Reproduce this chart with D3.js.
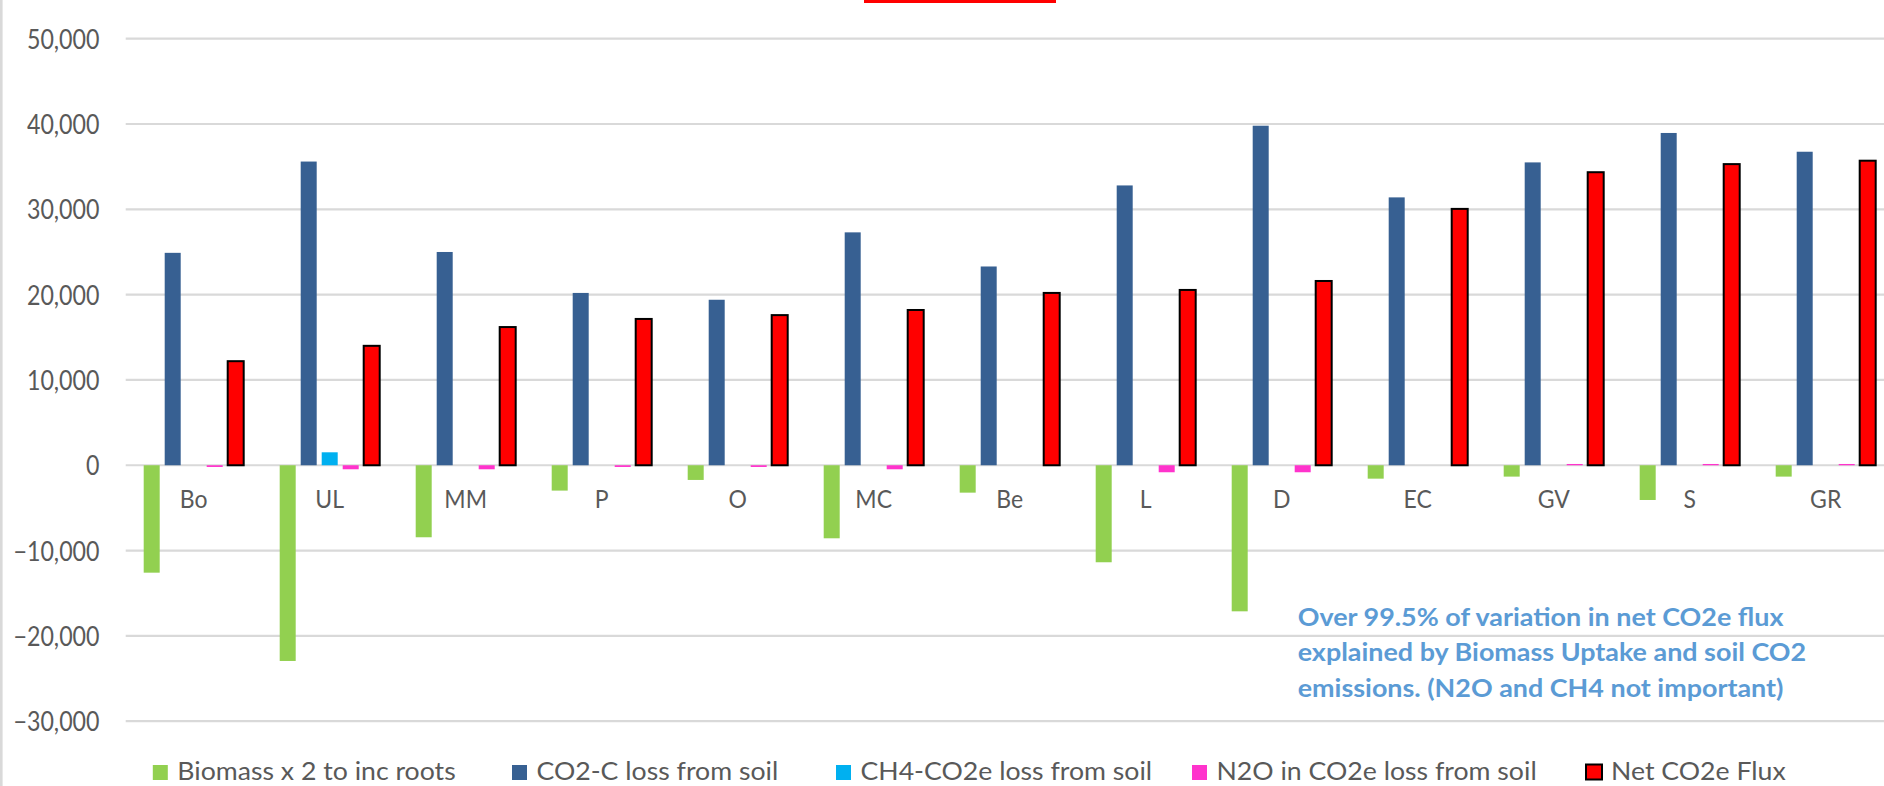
<!DOCTYPE html>
<html>
<head>
<meta charset="utf-8">
<script src="https://cdn.jsdelivr.net/npm/d3@7"></script>
<style>
  html, body { margin: 0; padding: 0; background: #ffffff; }
  svg { display: block; }
</style>
</head>
<body>
<svg id="chart" width="1884" height="786"></svg>
<script>
// ---------------- DATA ----------------
const categories = ["Bo", "UL", "MM", "P", "O", "MC", "Be", "L", "D", "EC", "GV", "S", "GR"];
const seriesNames = ["Biomass x 2 to inc roots", "CO2-C loss from soil", "CH4-CO2e loss from soil", "N2O in CO2e loss from soil", "Net CO2e Flux"];
const biomass = [-12590, -22940, -8440, -2970, -1720, -8560, -3210, -11370, -17120, -1570, -1330, -4070, -1330];
const co2cLoss = [24900, 35600, 25000, 20200, 19400, 27300, 23300, 32800, 39800, 31400, 35500, 38950, 36750];
const ch4Loss = [0, 1520, 0, 0, 0, 0, 0, 0, 0, 0, 0, 0, 0];
const n2oLoss = [-200, -470, -470, -200, -200, -470, 0, -820, -820, 0, 150, 150, 150];
const netFlux = [12200, 14000, 16200, 17150, 17600, 18200, 20200, 20550, 21600, 30050, 34350, 35300, 35700];
const yTicks = [-30000, -20000, -10000, 0, 10000, 20000, 30000, 40000, 50000];
const noteLines = [
  "Over 99.5% of variation in net CO2e flux",
  "explained by Biomass Uptake and soil CO2",
  "emissions. (N2O and CH4 not important)"
];

// ---------------- STYLE ----------------
const seriesColors = ["#92D050", "#376092", "#00B0F0", "#FF33CC", "#FF0000"];
const seriesValues = [biomass, co2cLoss, ch4Loss, n2oLoss, netFlux];
const textColor = "#595959";
const gridColor = "#d9d9d9";
const FONT = 'Lato, "Open Sans", sans-serif';
const CAP = 0.7165; // Lato cap-height ratio

const W = 1884, H = 786;
const svg = d3.select("#chart");

// fit font size so a sample string reaches a target width
function fitSize(sample, target, weight) {
  const t = svg.append("text").attr("font-family", FONT).attr("font-size", 40)
    .attr("font-weight", weight || "normal").text(sample);
  const len = t.node().getComputedTextLength();
  t.remove();
  return 40 * target / len;
}
// vertical stretch so cap height matches the reference's tall, narrow lettering
function stretch(fs, capTarget) { return capTarget / (CAP * fs); }

const axisFs = fitSize("50,000", 72.6);
const axisK = stretch(axisFs, 19);
const catFs = fitSize("MC", 36.7);
const catK = stretch(catFs, 18.3);
const legendFs = fitSize(seriesNames[0], 278.5);
const legendK = stretch(legendFs, 18.5);
const noteFs = fitSize(noteLines[0], 486, "bold");
const noteK = stretch(noteFs, 18.3);

// ---------------- SCALES ----------------
const plotLeft = 125.7;
const step = 136;
const x0 = d3.scaleBand().domain(categories)
  .range([plotLeft, plotLeft + step * categories.length])
  .paddingInner(36 / 136).paddingOuter(18 / 136);
const x1 = d3.scaleBand().domain(d3.range(seriesNames.length))
  .range([0, x0.bandwidth()]).paddingInner(5 / 21).paddingOuter(0);
const y = d3.scaleLinear().domain([-30000, 50000]).range([721.2, 38.7]);

// ---------------- FRAME ----------------
svg.append("rect").attr("x", 0).attr("y", 0).attr("width", 2.6).attr("height", H).attr("fill", gridColor);
svg.append("rect").attr("x", 864).attr("y", 0).attr("width", 192).attr("height", 3).attr("fill", "#FF0000");

// gridlines
svg.append("g").selectAll("line").data(yTicks).join("line")
  .attr("x1", plotLeft).attr("x2", W)
  .attr("y1", d => y(d)).attr("y2", d => y(d))
  .attr("stroke", gridColor).attr("stroke-width", 2.2);

// y axis labels
const yAxis = d3.axisLeft(y).tickValues(yTicks).tickFormat(d3.format(",")).tickSize(0).tickPadding(0);
const gy = svg.append("g").attr("transform", "translate(99.5,0)").call(yAxis);
gy.select(".domain").remove();
gy.selectAll("text")
  .attr("font-family", FONT).attr("font-size", axisFs).attr("fill", textColor)
  .attr("dy", null).attr("x", null).attr("y", null)
  .attr("text-anchor", "end")
  .attr("transform", `translate(0,${19 / 2}) scale(1,${axisK})`);

// ---------------- BARS ----------------
const groups = svg.append("g").selectAll("g").data(categories).join("g")
  .attr("transform", d => `translate(${x0(d)},0)`);

groups.selectAll("rect").data((c, ci) => seriesValues.map((vals, si) => ({ si, v: vals[ci] })))
  .join("rect")
  .filter(d => d.v !== 0)
  .attr("x", d => x1(d.si))
  .attr("width", x1.bandwidth())
  .attr("y", d => y(Math.max(0, d.v)))
  .attr("height", d => Math.abs(y(d.v) - y(0)))
  .attr("fill", d => seriesColors[d.si])
  .attr("stroke", d => d.si === 4 ? "#000000" : "none")
  .attr("stroke-width", d => d.si === 4 ? 2 : 0);

// category labels (just below zero line)
svg.append("g").selectAll("text").data(categories).join("text")
  .attr("transform", d => `translate(${x0(d) + x0.bandwidth() / 2},508.3) scale(1,${catK})`)
  .attr("text-anchor", "middle")
  .attr("font-family", FONT).attr("font-size", catFs).attr("fill", textColor)
  .text(d => d);

// ---------------- ANNOTATION ----------------
svg.append("g").selectAll("text").data(noteLines).join("text")
  .attr("transform", (d, i) => `translate(1297.7,${626 + i * 35.3}) scale(1,${noteK})`)
  .attr("font-family", FONT).attr("font-weight", "bold").attr("font-size", noteFs)
  .attr("fill", "#5B9BD5")
  .text(d => d);

// ---------------- LEGEND ----------------
const legendX = [152.8, 512, 836, 1192, 1585];
const legendBase = 780;
const leg = svg.append("g").selectAll("g").data(seriesNames).join("g")
  .attr("transform", (d, i) => `translate(${legendX[i]},0)`);
leg.append("rect")
  .attr("x", (d, i) => i === 4 ? 1 : 0).attr("y", (d, i) => i === 4 ? legendBase - 15.5 : legendBase - 15)
  .attr("width", (d, i) => i === 4 ? 16 : 15).attr("height", 15)
  .attr("fill", (d, i) => seriesColors[i])
  .attr("stroke", (d, i) => i === 4 ? "#000" : "none")
  .attr("stroke-width", (d, i) => i === 4 ? 2 : 0);
leg.append("text")
  .attr("transform", (d, i) => `translate(${i === 4 ? 26 : 24.5},${legendBase}) scale(1,${legendK})`)
  .attr("font-family", FONT).attr("font-size", legendFs).attr("fill", textColor)
  .text(d => d);
</script>
</body>
</html>
